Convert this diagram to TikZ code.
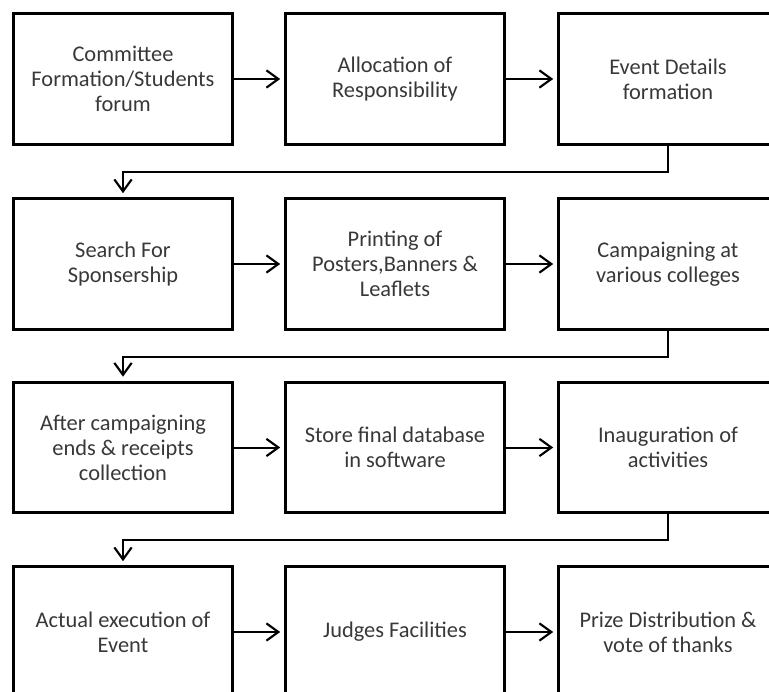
\documentclass[tikz,border=0pt]{standalone}
\usepackage{fontspec}
\setmainfont{Carlito}
\usepackage{tikz}
\usetikzlibrary{arrows.meta}

\begin{document}
\begin{tikzpicture}[x=0.75pt, y=-0.75pt,
    stage/.style={draw=black, line width=2.2pt, minimum width=164pt, minimum height=98pt,
        align=center, text=black!78, font=\fontsize{16.8}{18.75}\selectfont},
    flow/.style={line width=1.5pt, -{Straight Barb[length=9pt, width=13pt, line width=1.6pt]}, shorten >=3pt}]
    \def\ca{123}
    \def\cb{395}
    \def\cc{668}
    \def\drop{26}
    \useasboundingbox (0,0) rectangle (769,692);
    \clip (0,0) rectangle (769,692);
    % first row
    \node[stage] (r1c1) at (\ca, 79) {Committee\\Formation/Students\\forum};
    \node[stage] (r1c2) at (\cb, 79) {Allocation of\\Responsibility};
    \node[stage] (r1c3) at (\cc, 79) {Event Details\\formation};
    % second row
    \node[stage] (r2c1) at (\ca, 264) {Search For\\Sponsership};
    \node[stage] (r2c2) at (\cb, 264) {Printing of\\Posters,Banners \&\\Leaflets};
    \node[stage] (r2c3) at (\cc, 264) {Campaigning at\\various colleges};
    % third row
    \node[stage] (r3c1) at (\ca, 447.5) {After campaigning\\ends \& receipts\\collection};
    \node[stage] (r3c2) at (\cb, 447.5) {Store final database\\in software};
    \node[stage] (r3c3) at (\cc, 447.5) {Inauguration of\\activities};
    % fourth row
    \node[stage] (r4c1) at (\ca, 632) {Actual execution of\\Event};
    \node[stage] (r4c2) at (\cb, 632) {Judges Facilities};
    \node[stage] (r4c3) at (\cc, 632) {Prize Distribution \&\\vote of thanks};
    % arrows along each row
    \draw[flow] (r1c1) -- (r1c2);
    \draw[flow] (r1c2) -- (r1c3);
    \draw[flow] (r2c1) -- (r2c2);
    \draw[flow] (r2c2) -- (r2c3);
    \draw[flow] (r3c1) -- (r3c2);
    \draw[flow] (r3c2) -- (r3c3);
    \draw[flow] (r4c1) -- (r4c2);
    \draw[flow] (r4c2) -- (r4c3);
    % row to row
    \draw[flow] (r1c3.south) -- ++(0,\drop) -| (r2c1.north);
    \draw[flow] (r2c3.south) -- ++(0,\drop) -| (r3c1.north);
    \draw[flow] (r3c3.south) -- ++(0,\drop) -| (r4c1.north);
\end{tikzpicture}
\end{document}
